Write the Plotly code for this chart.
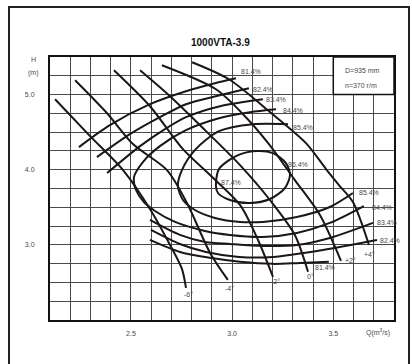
import plotly.graph_objects as go

# ---------------- data (Q in m^3/s, H in m) ----------------
# blade-angle H-Q curves
blade_labels = ["-6°", "-4°", "-2°", "0°", "+2°", "+4°"]
bA_Q = [2.125, 2.298, 2.461, 2.594, 2.693, 2.752, 2.772]
bA_H = [4.938, 4.447, 3.995, 3.477, 2.999, 2.681, 2.428]
bB_Q = [2.224, 2.382, 2.510, 2.678, 2.777, 2.891, 2.979]
bB_H = [5.191, 4.752, 4.341, 3.995, 3.557, 2.893, 2.534]
bC_Q = [2.416, 2.594, 2.757, 2.891, 3.039, 3.128, 3.202]
bC_H = [5.323, 4.845, 4.274, 3.929, 3.531, 3.065, 2.574]
bD_Q = [2.545, 2.693, 2.866, 3.039, 3.187, 3.310, 3.375]
bD_H = [5.323, 4.978, 4.527, 4.062, 3.597, 3.132, 2.641]
bE_Q = [2.653, 2.920, 3.054, 3.182, 3.310, 3.434, 3.538]
bE_H = [5.390, 5.071, 4.739, 4.341, 3.862, 3.398, 2.787]
bF_Q = [2.802, 2.984, 3.182, 3.365, 3.464, 3.528, 3.597, 3.676]
bF_H = [5.430, 5.204, 4.779, 4.354, 4.009, 3.796, 3.570, 3.000]

# iso-efficiency curves
e81_up_Q = [2.243, 2.396, 2.594, 2.772, 2.915, 3.019]
e81_up_H = [4.301, 4.593, 4.872, 5.044, 5.151, 5.217]
e81_lo_Q = [2.594, 2.742, 2.891, 3.039, 3.202, 3.335, 3.478]
e81_lo_H = [3.066, 2.906, 2.827, 2.774, 2.747, 2.760, 2.774]
e82_up_Q = [2.332, 2.495, 2.643, 2.772, 2.940, 3.083]
e82_up_H = [4.168, 4.473, 4.699, 4.872, 4.991, 5.084]
e82_lo_Q = [2.599, 2.742, 2.871, 3.034, 3.202, 3.449, 3.716]
e82_lo_H = [3.199, 3.012, 2.906, 2.840, 2.840, 2.933, 3.066]
e83_up_Q = [2.382, 2.545, 2.668, 2.772, 2.940, 3.152]
e83_up_H = [3.955, 4.314, 4.540, 4.699, 4.845, 4.938]
e83_lo_Q = [2.594, 2.742, 2.866, 2.989, 3.152, 3.320, 3.483, 3.696]
e83_lo_H = [3.331, 3.132, 3.039, 3.012, 2.986, 2.999, 3.092, 3.292]
e84_Q = [3.217, 3.088, 2.935, 2.772, 2.643, 2.559, 2.515, 2.525, 2.564,
         2.619, 2.718, 2.866, 2.989, 3.152, 3.320, 3.483, 3.651]
e84_H = [4.805, 4.766, 4.686, 4.527, 4.314, 4.102, 3.902, 3.730, 3.570,
         3.451, 3.305, 3.185, 3.132, 3.106, 3.159, 3.292, 3.517]
e85_Q = [3.276, 3.103, 2.935, 2.816, 2.752, 2.732, 2.757, 2.816, 2.915,
         3.039, 3.152, 3.320, 3.483, 3.597]
e85_H = [4.606, 4.606, 4.513, 4.261, 3.995, 3.783, 3.597, 3.464, 3.358,
         3.305, 3.305, 3.371, 3.504, 3.690]
e86_Q = [2.920, 2.935, 3.019, 3.118, 3.202, 3.266, 3.286, 3.261, 3.187,
         3.088, 2.989, 2.930, 2.920]
e86_H = [3.783, 4.009, 4.181, 4.248, 4.221, 4.088, 3.929, 3.756, 3.610,
         3.557, 3.597, 3.690, 3.783]
peak_Q, peak_H, peak_label = 2.994, 3.836, "87.4%"

eff_labels = ["81.4%", "82.4%", "83.4%", "84.4%", "85.4%", "86.4%"]

x_ticks = [round(2.1 + 0.1 * i, 1) for i in range(18)]
x_ticktext = ["2.5" if v == 2.5 else "3.0" if v == 3.0 else "3.5" if v == 3.5 else " " for v in x_ticks]
y_ticks = [2.0 + 0.25 * i for i in range(15)]
y_ticktext = ["3.0" if v == 3.0 else "4.0" if v == 4.0 else "5.0" if v == 5.0 else " " for v in y_ticks]

title_text = "1000VTA-3.9"
box_lines = ["D=935 mm", "n=370 r/m"]

# ---------------- figure ----------------
LINE = dict(color="#1c1616", width=2, shape="spline", smoothing=0.8)
FONT = "Liberation Sans, Arial, sans-serif"
LBL = dict(family=FONT, size=7, color="#4a4a4a")

fig = go.Figure()

blades = [(bA_Q, bA_H), (bB_Q, bB_H), (bC_Q, bC_H), (bD_Q, bD_H), (bE_Q, bE_H), (bF_Q, bF_H)]
for q, h in blades:
    fig.add_trace(go.Scatter(x=q, y=h, mode="lines", line=LINE, hoverinfo="skip"))

effs = [(e81_up_Q, e81_up_H), (e81_lo_Q, e81_lo_H), (e82_up_Q, e82_up_H), (e82_lo_Q, e82_lo_H),
        (e83_up_Q, e83_up_H), (e83_lo_Q, e83_lo_H), (e84_Q, e84_H), (e85_Q, e85_H), (e86_Q, e86_H)]
for q, h in effs:
    fig.add_trace(go.Scatter(x=q, y=h, mode="lines", line=LINE, hoverinfo="skip"))

ann = []
# blade labels at curve ends
b_shift = [(3, -7), (2, -9), (3, -5), (2, -5), (10, 0), (1, -10)]
for (q, h), lab, (dx, dy) in zip(blades, blade_labels, b_shift):
    ann.append(dict(x=q[-1], y=h[-1], text=lab, showarrow=False, xanchor="center",
                    yanchor="middle", xshift=dx, yshift=dy, font=LBL))
# upper-branch labels
up_ends = [(e81_up_Q[-1], e81_up_H[-1]), (e82_up_Q[-1], e82_up_H[-1]), (e83_up_Q[-1], e83_up_H[-1]),
           (e84_Q[0], e84_H[0]), (e85_Q[0], e85_H[0])]
up_shift = [(3, 7), (2, -1), (1, 0), (5, -1), (3, -3)]
for (q, h), lab, (dx, dy) in zip(up_ends, eff_labels[:5], up_shift):
    ann.append(dict(x=q, y=h, text=lab, showarrow=False, xanchor="left", yanchor="middle",
                    xshift=dx, yshift=dy, font=LBL))
# lower-branch labels
lo_ends = [(e81_lo_Q[-1], e81_lo_H[-1]), (e82_lo_Q[-1], e82_lo_H[-1]), (e83_lo_Q[-1], e83_lo_H[-1]),
           (e84_Q[-1], e84_H[-1]), (e85_Q[-1], e85_H[-1])]
lo_shift = [(-16, -6), (1, -1), (2, 0), (6, -1), (4, 1)]
for (q, h), lab, (dx, dy) in zip(lo_ends, eff_labels[:5], lo_shift):
    ann.append(dict(x=q, y=h, text=lab, showarrow=False, xanchor="left", yanchor="middle",
                    xshift=dx, yshift=dy, font=LBL))
# inner loop + peak
ann.append(dict(x=e86_Q[5], y=e86_H[5], text=eff_labels[5], showarrow=False, xanchor="left",
                yanchor="middle", xshift=0, yshift=-1, font=LBL))
ann.append(dict(x=peak_Q, y=peak_H, text=peak_label, showarrow=False, xanchor="center",
                yanchor="middle", font=LBL))

# box text
for i, t in enumerate(box_lines):
    ann.append(dict(x=3.5, y=5.5, xref="x", yref="y", text=t, showarrow=False, xanchor="left",
                    yanchor="middle", xshift=10, yshift=-13 - 15 * i, font=LBL))

# titles and axis captions
ann.append(dict(x=0.497, y=1.057, xref="paper", yref="paper", text="<b>" + title_text + "</b>",
                showarrow=False, xanchor="center", yanchor="middle",
                font=dict(family=FONT, size=10, color="#111111")))
ann.append(dict(x=-0.049, y=0.989, xref="paper", yref="paper", text="H", showarrow=False,
                xanchor="center", yanchor="middle", font=LBL))
ann.append(dict(x=-0.049, y=0.939, xref="paper", yref="paper", text="(m)", showarrow=False,
                xanchor="center", yanchor="middle", font=LBL))
ann.append(dict(x=0.953, y=-0.046, xref="paper", yref="paper", text="Q(m<sup>3</sup>/s)",
                showarrow=False, xanchor="center", yanchor="middle", font=LBL))

shapes = [
    dict(type="rect", xref="x", yref="y", x0=3.5, x1=3.8, y0=5.0, y1=5.5,
         fillcolor="white", line=dict(color="#111111", width=1.5), layer="above"),
    dict(type="rect", xref="paper", yref="paper", x0=-0.1192, x1=1.0436, y0=-0.19, y1=1.19,
         line=dict(color="#222222", width=2), fillcolor="rgba(0,0,0,0)"),
]

fig.update_layout(
    width=412, height=364,
    margin=dict(l=50, r=18, t=57, b=44),
    paper_bgcolor="white", plot_bgcolor="white",
    showlegend=False,
    annotations=ann, shapes=shapes,
    font=dict(family=FONT),
)
fig.update_xaxes(range=[2.1, 3.8], tickvals=x_ticks, ticktext=x_ticktext, showgrid=True,
                 gridcolor="#4a4a4a", gridwidth=1, zeroline=False, showline=True, mirror=True,
                 linecolor="#111111", linewidth=2, ticks="outside", ticklen=6,
                 tickcolor="rgba(0,0,0,0)", tickfont=LBL, fixedrange=True)
fig.update_yaxes(range=[2.0, 5.5], tickvals=y_ticks, ticktext=y_ticktext, showgrid=True,
                 gridcolor="#4a4a4a", gridwidth=1, zeroline=False, showline=True, mirror=True,
                 linecolor="#111111", linewidth=2, ticks="outside", ticklen=12,
                 tickcolor="rgba(0,0,0,0)", tickfont=LBL, fixedrange=True)

fig.write_html("out.html", config={"displayModeBar": False, "staticPlot": True},
               post_script="document.body.style.margin='0';document.body.style.padding='0';")
